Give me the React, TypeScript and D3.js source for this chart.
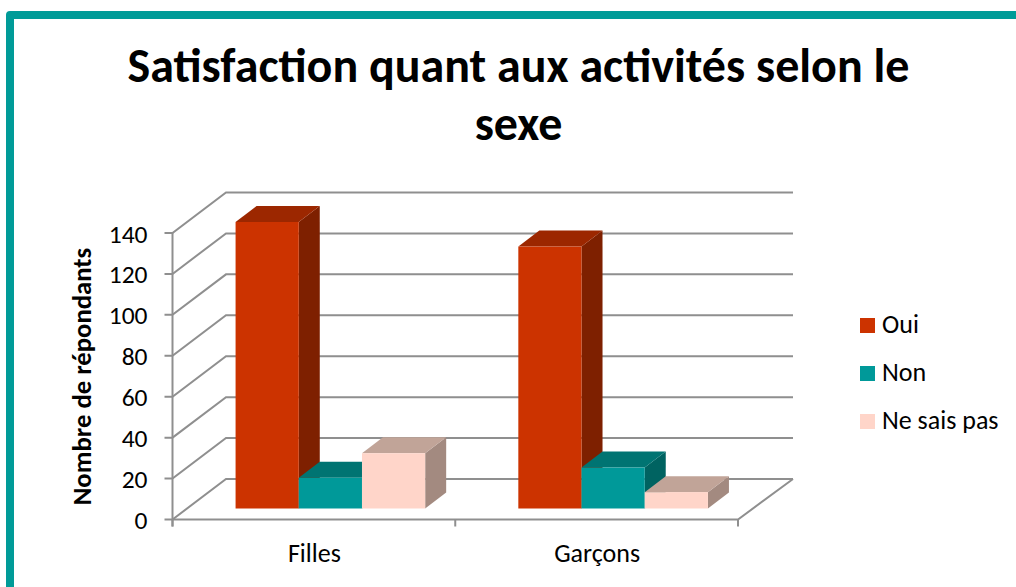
import React from "react";
import * as d3 from "d3";

const categories = ["Filles", "Garçons"];
const seriesNames = ["Oui", "Non", "Ne sais pas"];
const oui = [140, 128];
const non = [15, 20];
const neSaisPas = [27, 8];
const yTicks = [0, 20, 40, 60, 80, 100, 120, 140];
const titleLines = ["Satisfaction quant aux activités selon le", "sexe"];
const yTitle = "Nombre de répondants";

const front = ["#CC3300", "#009999", "#FFD5C9"];
const top = ["#9C2700", "#007472", "#C1A498"];
const side = ["#7E2000", "#006361", "#A38A80"];
const gridColor = "#8F8F8F";
const font = "Carlito, Lato, 'Open Sans', sans-serif";

const W = 1016, H = 587;
const leftDx = 53.5, rightDx = 55, floorDy = -40.5;
const y0 = 519.5, y140 = 233;
const barBase = 508.5;
const barW = 63.2, depthX = 21, depthY = -16;

const yScale = d3.scaleLinear().domain([0, 140]).range([y0, y140]);
const xBand = d3.scaleBand<string>().domain(categories).range([172.5, 738]);
const heightPx = (v: number) => y0 - yScale(v);
const poly = (pts: [number, number][]) => (d3.line()(pts) ?? "") + "Z";

const values = [oui, non, neSaisPas];

export default function App() {
  const x0 = xBand.range()[0], x1 = xBand.range()[1];
  return (
    <svg width={W} height={H} viewBox={`0 0 ${W} ${H}`} style={{ position: "absolute", left: 0, top: 0, background: "#fff", fontFamily: font }}>
      <path d={`M6 587V15Q6 11 10 11H1016V19H14V587Z`} fill="#009B98" />
      {titleLines.map((t, i) => (
        <text key={t} x={518.5} y={82 + i * 58} textAnchor="middle" fontSize={48} fontWeight={700} fill="#000">{t}</text>
      ))}
      {/* walls */}
      <g stroke={gridColor} strokeWidth={2} fill="none">
        {yTicks.map(t => {
          const y = yScale(t);
          return (
            <path key={t} d={d3.line()([[x0 - 8, y], [x0, y], [x0 + leftDx, y + floorDy], [x1 + rightDx, y + floorDy]]) ?? ""} />
          );
        })}
        <path d={d3.line()([[x0, y140], [x0, y0 + 7]]) ?? ""} />
        <path d={d3.line()([[x0, y0], [x1, y0], [x1 + rightDx, y0 + floorDy]]) ?? ""} />
        {[0, 1, 2].map(i => {
          const x = x0 + (i * (x1 - x0)) / 2;
          return <path key={i} d={`M${x} ${y0}V${y0 + 7}`} />;
        })}
      </g>
      {/* bars */}
      {categories.map((c, ci) => {
        const center = (xBand(c) as number) + xBand.bandwidth() / 2 + 16.5;
        return (
          <g key={c}>
            {values.map((vals, si) => {
              const x = center - 1.5 * barW + si * barW;
              const h = heightPx(vals[ci]);
              const yT = barBase - h;
              return (
                <g key={si}>
                  <path d={poly([[x + barW, yT], [x + barW + depthX, yT + depthY], [x + barW + depthX, barBase + depthY], [x + barW, barBase]])} fill={side[si]} />
                  <path d={poly([[x, yT], [x + depthX, yT + depthY], [x + barW + depthX, yT + depthY], [x + barW, yT]])} fill={top[si]} />
                  <rect x={x} y={yT} width={barW} height={h} fill={front[si]} />
                </g>
              );
            })}
          </g>
        );
      })}
      {/* labels */}
      {yTicks.map(t => (
        <text key={t} x={147.5} y={yScale(t) + 9.5} textAnchor="end" fontSize={25.5} fill="#000">{t}</text>
      ))}
      {categories.map(c => (
        <text key={c} x={(xBand(c) as number) + xBand.bandwidth() / 2 + 0.5} y={562} textAnchor="middle" fontSize={26} fill="#000">{c}</text>
      ))}
      <text transform="translate(91,376.5) rotate(-90)" textAnchor="middle" fontSize={26.7} fontWeight={700} fill="#000">{yTitle}</text>
      {seriesNames.map((s, i) => (
        <g key={s}>
          <rect x={860} y={318 + i * 48} width={15} height={15} fill={front[i]} />
          <text x={882} y={333 + i * 48} fontSize={26} fill="#000">{s}</text>
        </g>
      ))}
    </svg>
  );
}
